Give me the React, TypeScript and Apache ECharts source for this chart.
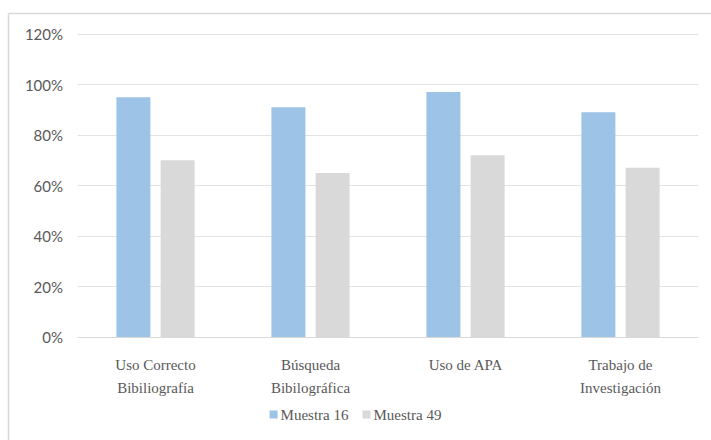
import React, { useEffect, useRef } from "react";
import * as echarts from "echarts";

const categories = ["Uso Correcto\nBibiliografía", "Búsqueda\nBibilográfica", "Uso de APA", "Trabajo de\nInvestigación"];
const muestra16 = [0.95, 0.91, 0.97, 0.89];
const muestra49 = [0.7, 0.65, 0.72, 0.67];
const seriesNames = ["Muestra 16", "Muestra 49"];

const SERIF = "Liberation Serif";

export default function App() {
  const ref = useRef<HTMLDivElement>(null);
  useEffect(() => {
    if (!ref.current) return;
    const chart = echarts.init(ref.current, undefined, { renderer: "svg" });
    chart.setOption({
      animation: false,
      backgroundColor: "#ffffff",
      graphic: [
        { type: "line", shape: { x1: 8.5, y1: 13.5, x2: 711, y2: 13.5 }, style: { stroke: "#d9d9d9", lineWidth: 1.5 } },
        { type: "line", shape: { x1: 8.5, y1: 13.5, x2: 8.5, y2: 440 }, style: { stroke: "#d9d9d9", lineWidth: 1.5 } },
      ],
      grid: { left: 78, right: 13, top: 34, bottom: 103, containLabel: false },
      legend: {
        bottom: 13,
        left: "center",
        itemWidth: 8,
        itemHeight: 8,
        itemGap: 14,
        icon: "rect",
        textStyle: { fontFamily: SERIF, fontSize: 15, color: "#595959", padding: [0, 0, 0, -2] },
        data: seriesNames,
      },
      xAxis: {
        type: "category",
        data: categories,
        axisLine: { lineStyle: { color: "#d9d9d9", width: 1 } },
        axisTick: { show: false },
        axisLabel: {
          fontFamily: SERIF,
          fontSize: 15,
          color: "#595959",
          lineHeight: 23,
          margin: 16,
          interval: 0,
        },
      },
      yAxis: {
        type: "value",
        min: 0,
        max: 1.2,
        interval: 0.2,
        axisLine: { show: false },
        axisTick: { show: false },
        splitLine: { lineStyle: { color: "#e3e3e3", width: 1 } },
        axisLabel: {
          fontFamily: "Lato",
          fontSize: 15,
          color: "#595959",
          margin: 15,
          formatter: (v: number) => Math.round(v * 100) + "%",
        },
      },
      series: [
        {
          name: seriesNames[0],
          type: "bar",
          data: muestra16,
          barWidth: 34,
          barGap: "30%",
          itemStyle: { color: "#9dc3e6" },
        },
        {
          name: seriesNames[1],
          type: "bar",
          data: muestra49,
          barWidth: 34,
          barGap: "30%",
          itemStyle: { color: "#d9d9d9" },
        },
      ],
    });
    return () => chart.dispose();
  }, []);
  return (
    <div style={{ position: "fixed", left: 0, top: 0, width: 711, height: 440, background: "#fff" }}>
      <div ref={ref} style={{ width: 711, height: 440 }} />
    </div>
  );
}
